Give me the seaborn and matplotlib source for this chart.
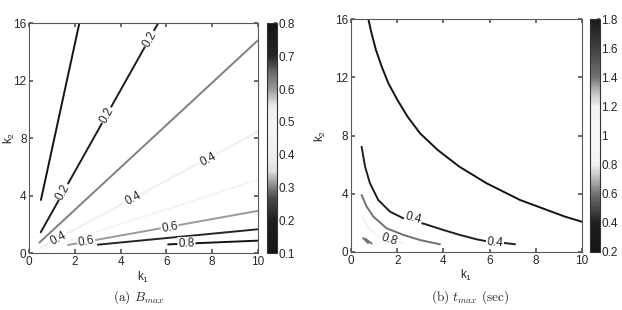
import numpy as np
import pandas as pd
import matplotlib
matplotlib.use("Agg")
import matplotlib.pyplot as plt
import matplotlib.ticker as mtick
from matplotlib.colors import LinearSegmentedColormap, Normalize
from matplotlib.cm import ScalarMappable
import seaborn as sns

# ---- (a) B_max : contour lines ----
left_levels = [0.1, 0.2, 0.3, 0.4, 0.5, 0.6, 0.7, 0.8]
left_k1 = [[0.51, 2.19], [0.50, 5.64], [0.44, 10.0], [0.50, 10.0],
           [0.60, 10.0], [1.70, 10.0], [3.00, 10.0], [6.08, 10.0]]
left_k2 = [[3.71, 16.0], [1.46, 16.0], [0.74, 14.8], [0.40, 8.45],
           [0.30, 5.10], [0.58, 2.95], [0.60, 1.67], [0.62, 0.88]]
left_label_text = ["0.2", "0.2", "0.2", "0.4", "0.4", "0.4", "0.6", "0.6", "0.8"]
left_label_k1 = [1.49, 3.38, 5.28, 1.27, 4.55, 7.83, 2.50, 6.15, 6.88]
left_label_k2 = [4.26, 9.61, 14.9, 1.04, 3.83, 6.54, 0.78, 1.80, 0.67]
left_label_line = [1, 1, 1, 3, 3, 3, 5, 5, 7]

# ---- (b) t_max (sec) ----
right_levels = [0.2, 0.4, 0.6, 0.8, 1.4]
right_k1 = [
    [0.75, 0.89, 1.08, 1.33, 1.62, 2.01, 2.45, 2.99, 3.75, 4.69, 5.87, 7.32, 9.26, 9.99],
    [0.46, 0.61, 0.82, 1.18, 1.69, 2.27, 3.20, 4.00, 4.72, 5.44, 6.02, 6.74, 7.10],
    [0.46, 0.68, 0.97, 1.54, 2.27, 2.99, 3.85],
    [0.50, 0.80, 1.20, 1.65, 2.30],
    [0.52, 0.75, 0.62, 0.90],
]
right_k2 = [
    [16.0, 15.02, 13.87, 12.73, 11.58, 10.44, 9.29, 8.15, 7.01, 5.86, 4.72, 3.57, 2.43, 2.08],
    [7.23, 5.86, 4.72, 3.57, 2.77, 2.31, 1.92, 1.51, 1.17, 0.87, 0.69, 0.60, 0.53],
    [3.91, 3.11, 2.43, 1.63, 1.17, 0.82, 0.53],
    [2.40, 1.60, 1.05, 0.82, 0.62],
    [0.96, 0.62, 0.90, 0.58],
]
right_label_text = ["0.4", "0.4", "0.8"]
right_label_k1 = [2.70, 6.23, 1.65]
right_label_k2 = [2.31, 0.64, 0.82]
right_label_line = [1, 1, 3]

x_ticks = [0, 2, 4, 6, 8, 10]
y_ticks = [0, 4, 8, 12, 16]
left_cbar_ticks = [0.1, 0.2, 0.3, 0.4, 0.5, 0.6, 0.7, 0.8]
right_cbar_ticks = [0.2, 0.4, 0.6, 0.8, 1.0, 1.2, 1.4, 1.6, 1.8]

# grey maps: dark at both ends, white in the middle (scanned MATLAB look)
def grey_map(stops, vmin, vmax):
    pts = [((v - vmin) / (vmax - vmin), (g, g, g)) for v, g in stops]
    return LinearSegmentedColormap.from_list("grey", pts)

left_norm = Normalize(0.1, 0.8)
left_cmap = grey_map([(0.1, 0.08), (0.2, 0.12), (0.27, 0.3), (0.3, 0.5), (0.35, 0.88),
                      (0.4, 0.94), (0.5, 0.96), (0.55, 0.92), (0.6, 0.6), (0.65, 0.42),
                      (0.7, 0.15), (0.8, 0.08)], 0.1, 0.8)
right_norm = Normalize(0.2, 1.8)
right_cmap = grey_map([(0.2, 0.08), (0.4, 0.12), (0.6, 0.45), (0.7, 0.72), (0.8, 0.95),
                       (1.0, 0.97), (1.2, 0.95), (1.3, 0.75), (1.4, 0.45), (1.6, 0.25),
                       (1.8, 0.1)], 0.2, 1.8)

sns.set_theme(style="ticks")
plt.rcParams["font.family"] = ["Liberation Sans", "DejaVu Sans"]
plt.rcParams["mathtext.fontset"] = "cm"

fig = plt.figure(figsize=(6.22, 3.10), dpi=100)


def to_frame(levels, xs, ys):
    rows = []
    for i, (lev, xx, yy) in enumerate(zip(levels, xs, ys)):
        for a, b in zip(xx, yy):
            rows.append({"k1": a, "k2": b, "level": lev, "line": i})
    return pd.DataFrame(rows)


def panel(ax_rect, cax_rect, levels, xs, ys, cmap, norm, lab_t, lab_x, lab_y, lab_i,
          cticks, ylab_x):
    ax = fig.add_axes(ax_rect)
    df = to_frame(levels, xs, ys)
    sns.lineplot(data=df, x="k1", y="k2", hue="level", units="line", estimator=None,
                 sort=False, palette=cmap, hue_norm=norm, legend=False, lw=1.4, ax=ax)
    ax.set_xlim(0, 10)
    ax.set_ylim(0, 16)
    ax.set_xticks(x_ticks)
    ax.set_yticks(y_ticks)
    ax.tick_params(direction="in", top=True, right=True, length=3, labelsize=8.5,
                   color="0.35", pad=2)
    for s in ax.spines.values():
        s.set_color("0.35")
        s.set_linewidth(0.8)
    ax.set_xlabel(r"$\mathregular{k_1}$", fontsize=8.5, labelpad=1)
    ax.set_ylabel(r"$\mathregular{k_2}$", fontsize=8.5)
    ax.yaxis.set_label_coords(ylab_x, 0.5)

    # inline contour labels, rotated along their line
    for t, x, y, i in zip(lab_t, lab_x, lab_y, lab_i):
        pts = ax.transData.transform(np.column_stack([xs[i], ys[i]]))
        p = ax.transData.transform((x, y))
        mids = (pts[1:] + pts[:-1]) / 2
        j = np.argmin(np.hypot(*(mids - p).T))
        dx, dy = pts[j + 1] - pts[j]
        ang = np.degrees(np.arctan2(dy, dx))
        if ang > 90:
            ang -= 180
        if ang < -90:
            ang += 180
        ax.text(x, y, t, rotation=ang, rotation_mode="anchor", ha="center", va="center",
                fontsize=8.5, zorder=5,
                bbox=dict(fc="white", ec="none", pad=0.6))

    cax = fig.add_axes(cax_rect)
    cb = fig.colorbar(ScalarMappable(norm=norm, cmap=cmap), cax=cax, ticks=cticks)
    cb.ax.yaxis.set_major_formatter(mtick.FormatStrFormatter("%g"))
    cb.ax.tick_params(labelsize=8.5, direction="in", length=2, pad=1, color="0.35")
    cb.outline.set_linewidth(0.8)
    cb.outline.set_edgecolor("0.2")
    return ax


panel([0.0471, 0.1829, 0.3672, 0.742], [0.4293, 0.1829, 0.0161, 0.742],
      left_levels, left_k1, left_k2, left_cmap, left_norm,
      left_label_text, left_label_k1, left_label_k2, left_label_line, left_cbar_ticks,
      -0.055)
panel([0.5643, 0.1871, 0.3714, 0.7516], [0.9486, 0.1871, 0.0161, 0.7516],
      right_levels, right_k1, right_k2, right_cmap, right_norm,
      right_label_text, right_label_k1, right_label_k2, right_label_line, right_cbar_ticks,
      -0.1)

fig.text(0.222, 0.03, r"(a) $B_{max}$", ha="center", fontsize=9.5, family="cmr10")
fig.text(0.755, 0.03, r"(b) $t_{max}$ (sec)", ha="center", fontsize=9.5, family="cmr10")

plt.savefig("out.png", dpi=100)
plt.close()
